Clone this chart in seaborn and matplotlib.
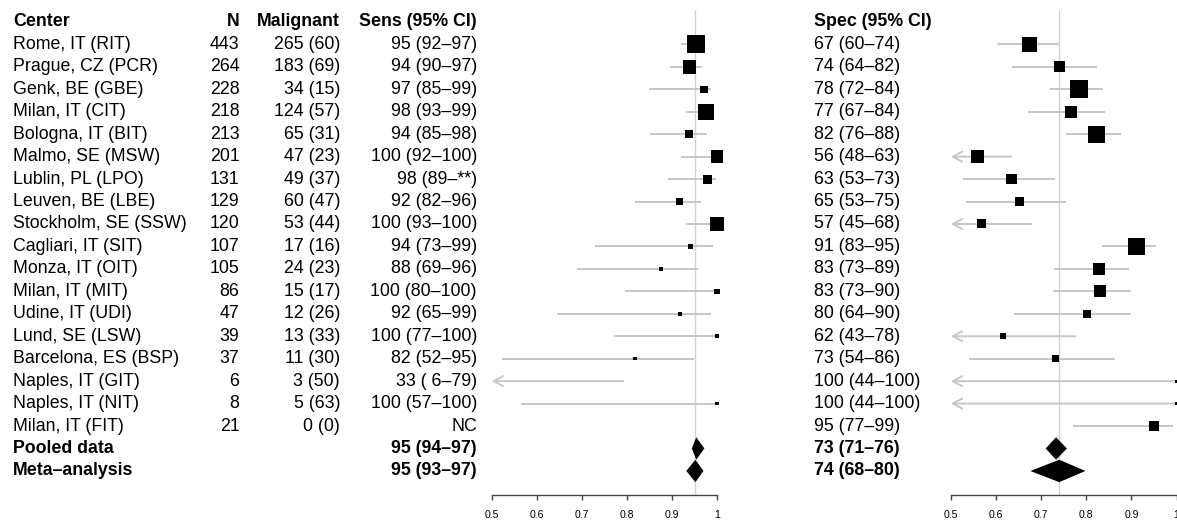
import numpy as np
import pandas as pd
import matplotlib
matplotlib.use("Agg")
import matplotlib.pyplot as plt
import seaborn as sns

# ---- data -------------------------------------------------------------
centers = ["Rome, IT (RIT)", "Prague, CZ (PCR)", "Genk, BE (GBE)", "Milan, IT (CIT)",
           "Bologna, IT (BIT)", "Malmo, SE (MSW)", "Lublin, PL (LPO)", "Leuven, BE (LBE)",
           "Stockholm, SE (SSW)", "Cagliari, IT (SIT)", "Monza, IT (OIT)", "Milan, IT (MIT)",
           "Udine, IT (UDI)", "Lund, SE (LSW)", "Barcelona, ES (BSP)", "Naples, IT (GIT)",
           "Naples, IT (NIT)", "Milan, IT (FIT)"]
n_patients = [443, 264, 228, 218, 213, 201, 131, 129, 120, 107, 105, 86, 47, 39, 37, 6, 8, 21]
n_malignant = [265, 183, 34, 124, 65, 47, 49, 60, 53, 17, 24, 15, 12, 13, 11, 3, 5, 0]
pct_malignant = [60, 69, 15, 57, 31, 23, 37, 47, 44, 16, 23, 17, 26, 33, 30, 50, 63, 0]

# sensitivity (%) with 95% CI; NaN = not computable
sens_est = [95.4, 93.9, 97.1, 97.6, 93.8, 100, 97.9, 91.7, 100, 94.1, 87.6, 100, 91.7, 100, 81.8, 33.3, 100, np.nan]
sens_lo = [92.0, 89.6, 84.9, 93.1, 85.1, 92.1, 89.2, 81.8, 93.1, 72.9, 68.9, 79.6, 64.6, 77.1, 52.3, 6.3, 56.6, np.nan]
sens_hi = [97.0, 96.6, 98.6, 99.0, 97.8, 100, 99.7, 96.4, 100, 99.1, 95.8, 100, 98.6, 100, 94.8, 79.2, 100, np.nan]
sens_hi_unreported = ["Lublin, PL (LPO)"]
sens_weight = [1.00, 0.74, 0.41, 0.87, 0.46, 0.71, 0.50, 0.41, 0.76, 0.24, 0.26, 0.28, 0.22, 0.24, 0.17, 0.14, 0.17, np.nan]

# specificity (%) with 95% CI
spec_est = [67.4, 74.1, 78.3, 76.6, 82.3, 55.9, 63.4, 65.2, 56.8, 91.1, 82.8, 83.1, 80.1, 61.6, 73.2, 100, 100, 95.1]
spec_lo = [60.3, 63.6, 71.9, 67.1, 75.6, 48.0, 52.6, 53.3, 45.0, 83.4, 72.9, 72.7, 64.0, 43.0, 54.0, 44.0, 44.0, 77.1]
spec_hi = [73.9, 82.3, 83.6, 84.1, 87.8, 63.4, 73.0, 75.4, 67.9, 95.4, 89.4, 90.0, 90.0, 77.6, 86.3, 100, 100, 99.3]
spec_weight = [0.82, 0.61, 1.00, 0.67, 0.93, 0.76, 0.59, 0.50, 0.50, 0.96, 0.71, 0.65, 0.44, 0.35, 0.39, 0.17, 0.17, 0.56]

summary_names = ["Pooled data", "Meta\u2013analysis"]
sens_sum_est = [95.4, 95.2]
sens_sum_lo = [94.4, 93.2]
sens_sum_hi = [97.2, 97.0]
spec_sum_est = [73.3, 74.0]
spec_sum_lo = [71.0, 67.6]
spec_sum_hi = [75.7, 79.8]

x_ticks = [0.5, 0.6, 0.7, 0.8, 0.9, 1.0]
x_tick_labels = ["0.5", "0.6", "0.7", "0.8", "0.9", "1"]

# ---- layout -----------------------------------------------------------
W, H = 1177, 522
ROW0, ROW_STEP = 44.4, 22.45          # pixel centre of first row and row pitch
AXIS_Y, TOP_Y = 494.7, 10.0
FS = 12.8
BOX_MAX_PX = 18.0
CI_COLOR = "#c6c6c6"
REF_COLOR = "#d2d2d2"


def px_row(py):
    return (py - ROW0) / ROW_STEP


sns.set_theme(style="white")
plt.rcParams["font.family"] = ["Liberation Sans", "DejaVu Sans"]
plt.rcParams["text.color"] = "black"
plt.rcParams["xtick.color"] = "black"

fig = plt.figure(figsize=(W / 100, H / 100), dpi=100)

df = pd.DataFrame({
    "center": centers, "n": n_patients, "mal": n_malignant, "pct": pct_malignant,
    "sens": sens_est, "sens_lo": sens_lo, "sens_hi": sens_hi, "sens_w": sens_weight,
    "spec": spec_est, "spec_lo": spec_lo, "spec_hi": spec_hi, "spec_w": spec_weight,
})
df["row"] = np.arange(len(df))
summ = pd.DataFrame({
    "name": summary_names,
    "sens": sens_sum_est, "sens_lo": sens_sum_lo, "sens_hi": sens_sum_hi,
    "spec": spec_sum_est, "spec_lo": spec_sum_lo, "spec_hi": spec_sum_hi,
})
summ["row"] = len(df) + np.arange(len(summ))


def ci_text(est, lo, hi, hi_text=None):
    if np.isnan(est):
        return "NC"
    hi_s = hi_text if hi_text is not None else f"{hi:.0f}"
    return f"{est:.0f} ({lo:2.0f}\u2013{hi_s})"


# ---- text columns -----------------------------------------------------
tax = fig.add_axes([0, 0, 1, 1])
tax.set_xlim(0, W)
tax.set_ylim(px_row(H), px_row(0))
tax.axis("off")

hdr = dict(fontsize=FS, fontweight="bold", va="center", color="black")
tax.text(13, -1, "Center", ha="left", **hdr)
tax.text(239.5, -1, "N", ha="right", **hdr)
tax.text(340, -1, "Malignant", ha="right", **hdr)
tax.text(477, -1, "Sens (95% CI)", ha="right", **hdr)
tax.text(814, -1, "Spec (95% CI)", ha="left", **hdr)

for r in df.itertuples():
    kw = dict(fontsize=FS, va="center", color="black")
    tax.text(13, r.row, r.center, ha="left", **kw)
    tax.text(239.5, r.row, f"{r.n}", ha="right", **kw)
    tax.text(340, r.row, f"{r.mal} ({r.pct})", ha="right", **kw)
    hi_txt = "**" if r.center in sens_hi_unreported else None
    tax.text(477, r.row, ci_text(r.sens, r.sens_lo, r.sens_hi, hi_txt), ha="right", **kw)
    tax.text(814, r.row, ci_text(r.spec, r.spec_lo, r.spec_hi), ha="left", **kw)

for r in summ.itertuples():
    kw = dict(fontsize=FS, va="center", fontweight="bold", color="black")
    tax.text(13, r.row, r.name, ha="left", **kw)
    tax.text(477, r.row, ci_text(r.sens, r.sens_lo, r.sens_hi), ha="right", **kw)
    tax.text(814, r.row, ci_text(r.spec, r.spec_lo, r.spec_hi), ha="left", **kw)


# ---- forest panels ----------------------------------------------------
def forest(x0_px, x1_px, col, ref_value):
    ax = fig.add_axes([x0_px / W, (H - AXIS_Y) / H, (x1_px - x0_px) / W, (AXIS_Y - TOP_Y) / H])
    ax.patch.set_alpha(0)
    lo_lim, hi_lim = x_ticks[0], x_ticks[-1]

    ax.axvline(ref_value / 100, color=REF_COLOR, lw=1, zorder=0)

    d = df.dropna(subset=[col]).copy()
    est = d[col] / 100
    lo = d[col + "_lo"] / 100
    hi = d[col + "_hi"] / 100

    # confidence intervals; truncated ones get an arrow at the axis limit
    inside = lo >= lo_lim
    ax.hlines(d.loc[inside, "row"], lo[inside], hi[inside], color=CI_COLOR, lw=1.4, zorder=1)
    for row, h in zip(d.loc[~inside, "row"], hi[~inside]):
        ax.annotate("", xy=(lo_lim, row), xytext=(h, row),
                    arrowprops=dict(arrowstyle="->,head_length=0.55,head_width=0.3",
                                    color=CI_COLOR, lw=1.4, shrinkA=0, shrinkB=0),
                    annotation_clip=False, zorder=1)

    # study boxes, side proportional to weight
    vis = d[(est >= lo_lim) & (est <= hi_lim)].copy()
    vis["x"] = vis[col] / 100
    areas = (vis[col + "_w"] * BOX_MAX_PX * 0.72) ** 2
    sns.scatterplot(data=vis, x="x", y="row", s=areas.values, marker="s", color="black",
                    linewidth=0, legend=False, ax=ax, clip_on=False, zorder=3)

    # summary diamonds
    for r in summ.itertuples():
        e, l, h = getattr(r, col) / 100, getattr(r, col + "_lo") / 100, getattr(r, col + "_hi") / 100
        ax.fill([l, e, h, e], [r.row, r.row - 0.5, r.row, r.row + 0.5],
                color="black", lw=0, zorder=3, clip_on=False)

    ax.set_xlim(lo_lim, hi_lim)
    ax.set_ylim(px_row(AXIS_Y), px_row(TOP_Y))
    ax.set_xlabel("")
    ax.set_ylabel("")
    ax.set_yticks([])
    ax.set_xticks(x_ticks)
    ax.set_xticklabels(x_tick_labels)
    for s in ("top", "left", "right"):
        ax.spines[s].set_visible(False)
    ax.spines["bottom"].set_color("#444444")
    ax.spines["bottom"].set_linewidth(1.0)
    ax.tick_params(axis="x", bottom=True, direction="out", length=3.8, width=1.0,
                   color="#444444", labelsize=7.6, pad=7.4, labelcolor="black")
    ax.grid(False)
    return ax


forest(491.7, 717.0, "sens", sens_sum_est[1])
forest(951.0, 1176.5, "spec", spec_sum_est[1])

fig.savefig("out.png", dpi=100)
